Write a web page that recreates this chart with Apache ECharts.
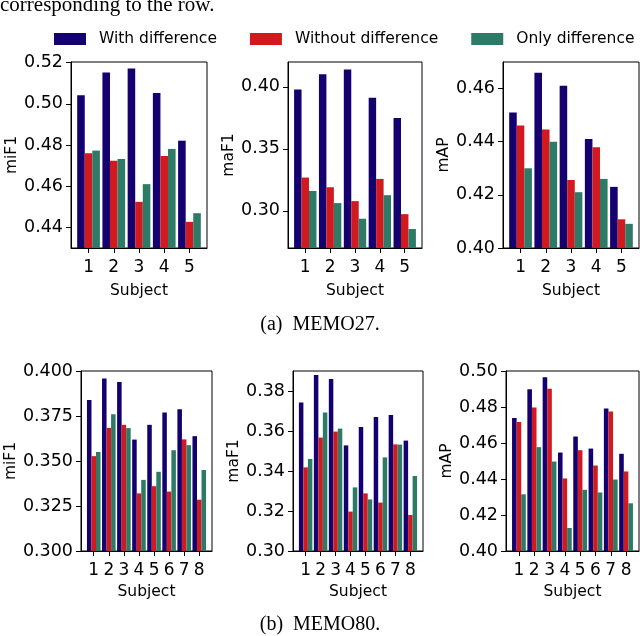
<!DOCTYPE html>
<html>
<head>
<meta charset="utf-8">
<script src="https://cdn.jsdelivr.net/npm/echarts@6/dist/echarts.min.js"></script>
<style>
html,body{margin:0;padding:0;background:#fff;}
#chart{width:640px;height:636px;}
</style>
</head>
<body>
<div id="chart"></div>
<script>
// ---- data ----
const seriesNames = ['With difference', 'Without difference', 'Only difference'];
const subjects27 = [1, 2, 3, 4, 5];
const subjects80 = [1, 2, 3, 4, 5, 6, 7, 8];

// MEMO27
const memo27_miF1_with    = [0.5042, 0.5152, 0.5171, 0.5052, 0.4821];
const memo27_miF1_without = [0.4760, 0.4724, 0.4524, 0.4747, 0.4427];
const memo27_miF1_only    = [0.4773, 0.4732, 0.4610, 0.4781, 0.4469];

const memo27_maF1_with    = [0.3979, 0.4102, 0.4139, 0.3912, 0.3749];
const memo27_maF1_without = [0.3268, 0.3190, 0.3078, 0.3257, 0.2973];
const memo27_maF1_only    = [0.3160, 0.3062, 0.2936, 0.3126, 0.2853];

const memo27_mAP_with     = [0.4510, 0.4660, 0.4611, 0.4410, 0.4230];
const memo27_mAP_without  = [0.4461, 0.4446, 0.4256, 0.4379, 0.4108];
const memo27_mAP_only     = [0.4300, 0.4400, 0.4210, 0.4260, 0.4091];

// MEMO80
const memo80_miF1_with    = [0.3839, 0.3959, 0.3939, 0.3619, 0.3701, 0.3769, 0.3787, 0.3638];
const memo80_miF1_without = [0.3527, 0.3684, 0.3701, 0.3320, 0.3360, 0.3330, 0.3620, 0.3285];
const memo80_miF1_only    = [0.3550, 0.3760, 0.3683, 0.3395, 0.3440, 0.3560, 0.3588, 0.3450];

const memo80_maF1_with    = [0.3742, 0.3880, 0.3860, 0.3528, 0.3620, 0.3670, 0.3680, 0.3552];
const memo80_maF1_without = [0.3418, 0.3567, 0.3597, 0.3197, 0.3288, 0.3242, 0.3533, 0.3180];
const memo80_maF1_only    = [0.3460, 0.3693, 0.3612, 0.3318, 0.3258, 0.3468, 0.3532, 0.3375];

const memo80_mAP_with     = [0.4739, 0.4898, 0.4965, 0.4547, 0.4636, 0.4569, 0.4791, 0.4540];
const memo80_mAP_without  = [0.4717, 0.4797, 0.4902, 0.4403, 0.4560, 0.4475, 0.4775, 0.4442];
const memo80_mAP_only     = [0.4315, 0.4577, 0.4497, 0.4128, 0.4340, 0.4325, 0.4397, 0.4265];

// tick labels
const yTicks27_miF1 = [0.44, 0.46, 0.48, 0.50, 0.52];
const yTicks27_maF1 = [0.30, 0.35, 0.40];
const yTicks27_mAP  = [0.40, 0.42, 0.44, 0.46];
const yTicks80_miF1 = [0.300, 0.325, 0.350, 0.375, 0.400];
const yTicks80_maF1 = [0.30, 0.32, 0.34, 0.36, 0.38];
const yTicks80_mAP  = [0.40, 0.42, 0.44, 0.46, 0.48, 0.50];

const captions = ['(a)  MEMO27.', '(b)  MEMO80.'];
const topText = 'corresponding to the row.';

// ---- layout / styles ----
const FONT = 'DejaVu Sans';
const SERIF = '"Liberation Serif", "DejaVu Serif", serif';
const colors = ['#14006e', '#d01a1f', '#2d7a66'];

const panels = [
  {grid:{left:71,  top:62,  width:136, height:186}, subjects:subjects27, data:[memo27_miF1_with, memo27_miF1_without, memo27_miF1_only], yname:'miF1', ymin:0.43, ymax:0.5203, ticks:yTicks27_miF1, dec:2, nameGap:49},
  {grid:{left:288, top:62,  width:134, height:186}, subjects:subjects27, data:[memo27_maF1_with, memo27_maF1_without, memo27_maF1_only], yname:'maF1', ymin:0.27, ymax:0.42, ticks:yTicks27_maF1, dec:2, nameGap:49},
  {grid:{left:503, top:62,  width:136, height:186}, subjects:subjects27, data:[memo27_mAP_with, memo27_mAP_without, memo27_mAP_only], yname:'mAP', ymin:0.40, ymax:0.47, ticks:yTicks27_mAP, dec:2, nameGap:49},
  {grid:{left:81,  top:371, width:131, height:180}, subjects:subjects80, data:[memo80_miF1_with, memo80_miF1_without, memo80_miF1_only], yname:'miF1', ymin:0.30, ymax:0.40, ticks:yTicks80_miF1, dec:3, nameGap:60},
  {grid:{left:293, top:371, width:130, height:180}, subjects:subjects80, data:[memo80_maF1_with, memo80_maF1_without, memo80_maF1_only], yname:'maF1', ymin:0.30, ymax:0.39, ticks:yTicks80_maF1, dec:2, nameGap:49},
  {grid:{left:506, top:371, width:133, height:180}, subjects:subjects80, data:[memo80_mAP_with, memo80_mAP_without, memo80_mAP_only], yname:'mAP', ymin:0.40, ymax:0.50, ticks:yTicks80_mAP, dec:2, nameGap:49}
];

const BAR_W = 0.3;
const grids = [], xAxes = [], yAxes = [], series = [];
panels.forEach((p, i) => {
  const n = p.subjects.length;
  const span = (n - 1) + 3 * BAR_W;
  const margin = 0.05 * span;
  grids.push(Object.assign({show:true, borderColor:'#000', borderWidth:1, backgroundColor:'transparent'}, p.grid));
  xAxes.push({
    type:'value', gridIndex:i,
    min: 1 - 1.5 * BAR_W - margin, max: n + 1.5 * BAR_W + margin,
    name:'Subject', nameLocation:'middle', nameGap: i < 3 ? 35 : 33,
    nameTextStyle:{fontFamily:FONT, fontSize:15.5, color:'#000'},
    axisLine:{show:true, onZero:false, lineStyle:{color:'#000', width:1}},
    axisTick:{show:true, length:5, lineStyle:{color:'#000', width:1}, customValues:p.subjects},
    axisLabel:{fontFamily:FONT, fontSize:17, color:'#000', margin:11, customValues:p.subjects, formatter:v=>String(v)},
    splitLine:{show:false}
  });
  yAxes.push({
    type:'value', gridIndex:i, min:p.ymin, max:p.ymax,
    name:p.yname, nameLocation:'middle', nameGap:p.nameGap,
    nameTextStyle:{fontFamily:FONT, fontSize:15.5, color:'#000'},
    axisLine:{show:true, onZero:false, lineStyle:{color:'#000', width:1}},
    axisTick:{show:true, length:5, lineStyle:{color:'#000', width:1}, customValues:p.ticks},
    axisLabel:{fontFamily:FONT, fontSize:17.5, color:'#000', margin:8, customValues:p.ticks, formatter:v=>Number(v).toFixed(p.dec)},
    splitLine:{show:false}
  });
  p.data.forEach((vals, k) => {
    series.push({
      type:'bar', name:seriesNames[k], xAxisIndex:i, yAxisIndex:i,
      data: p.subjects.map((s, j) => [s, vals[j]]),
      barWidth: (BAR_W * 100) + '%', barGap:'0%',
      itemStyle:{color:colors[k]}, clip:true, silent:true
    });
  });
});

const chart = echarts.init(document.getElementById('chart'), null, {renderer:'canvas'});
chart.setOption({
  animation:false,
  color:colors,
  legend:{
    data:seriesNames, left:49, top:25, itemWidth:32, itemHeight:12, itemGap:33,
    icon:'rect',
    textStyle:{fontFamily:FONT, fontSize:15.5, color:'#000', padding:[0,0,0,8], lineHeight:18}
  },
  grid:grids, xAxis:xAxes, yAxis:yAxes, series:series,
  graphic:[
    {type:'text', left:0, top:-5, style:{text:topText, font:'21px ' + SERIF, fill:'#000'}},
    {type:'text', left:'center', top:315, style:{text:captions[0], font:'20px ' + SERIF, fill:'#000'}},
    {type:'text', left:'center', top:615, style:{text:captions[1], font:'20px ' + SERIF, fill:'#000'}}
  ]
});
</script>
</body>
</html>
